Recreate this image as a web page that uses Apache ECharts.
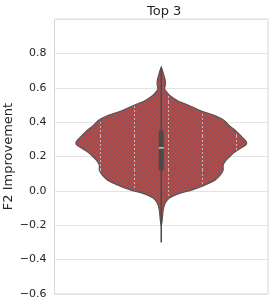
<!DOCTYPE html>
<html><head><meta charset="utf-8">
<script src="https://cdn.jsdelivr.net/npm/echarts@6/dist/echarts.min.js"></script>
<style>html,body{margin:0;padding:0;background:#fff}#c{width:274px;height:308px}</style>
</head><body><div id="c"></div>
<script>
const categories = ['Top 3'];
const title = 'Top 3';
const yAxisName = 'F2 Improvement';
// violin profile: value and relative density (1 = widest)
const kdeValues  = [0.72, 0.70, 0.67, 0.64, 0.613, 0.594, 0.574, 0.555, 0.526, 0.497, 0.468, 0.439, 0.41, 0.38, 0.353, 0.324, 0.295, 0.28, 0.266, 0.247, 0.227, 0.208, 0.179, 0.15, 0.121, 0.092, 0.064, 0.035, 0.006, -0.013, -0.042, -0.071, -0.11, -0.15, -0.19, -0.20];
const kdeDensity = [0.0, 0.015, 0.032, 0.047, 0.047, 0.040, 0.065, 0.10, 0.187, 0.324, 0.456, 0.62, 0.737, 0.795, 0.865, 0.924, 0.982, 1.0, 0.988, 0.924, 0.865, 0.819, 0.76, 0.725, 0.725, 0.69, 0.632, 0.515, 0.363, 0.222, 0.094, 0.047, 0.023, 0.015, 0.006, 0.0];
const whisker = [-0.30, 0.72];
const quartiles = [0.12, 0.25, 0.35]; // q1, median, q3
const yTicks = [-0.6, -0.4, -0.2, 0.0, 0.2, 0.4, 0.6, 0.8];
const yRange = [-0.6, 1.0];

function makePattern() {
  const s = 34;
  const c = document.createElement('canvas');
  c.width = s; c.height = s;
  const g = c.getContext('2d');
  g.fillStyle = '#d2443f';
  g.fillRect(0, 0, s, s);
  g.strokeStyle = 'rgba(105,90,100,0.9)';
  g.lineWidth = 1.1;
  const p = s / 10;
  for (let k = -12; k <= 12; k++) {
    g.beginPath();
    g.moveTo(k * p - s, -s);
    g.lineTo(k * p + 2 * s, 2 * s);
    g.stroke();
  }
  g.fillStyle = 'rgba(215,195,195,0.85)';
  for (let y = 0; y < s; y += 4) g.fillRect(32, y, 1, 2);
  return c;
}

const chart = echarts.init(document.getElementById('c'), null, {renderer: 'canvas'});
const pattern = makePattern();
chart.setOption({
  animation: false,
  title: {
    text: title, left: 142, top: 0,
    textStyle: {fontFamily: 'DejaVu Sans', fontSize: 13, fontWeight: 'normal', color: '#262626'}
  },
  grid: {left: 54.5, right: 6, top: 19, bottom: 14, show: true, borderColor: '#d6d6d6', borderWidth: 1,
         containLabel: false, outerBoundsMode: 'none'},
  xAxis: {type: 'value', min: -0.5, max: 0.5, show: false},
  yAxis: {
    type: 'value', min: yRange[0], max: yRange[1], interval: 0.2,
    name: yAxisName, nameLocation: 'middle', nameRotate: 90, nameGap: 39, nameMoveOverlap: false,
    nameTextStyle: {fontFamily: 'DejaVu Sans', fontSize: 13, color: '#262626'},
    axisLine: {show: false}, axisTick: {show: false},
    axisLabel: {
      fontFamily: 'DejaVu Sans', fontSize: 11, color: '#262626', margin: 8,
      showMaxLabel: false,
      formatter: v => {
        const t = yTicks.find(x => Math.abs(x - v) < 1e-6);
        if (t === undefined) return '';
        return t.toFixed(1).replace('-', '\u2212');
      }
    },
    splitLine: {lineStyle: {color: '#e3e3e3', width: 1}}
  },
  series: [{
    type: 'custom',
    data: [[0, quartiles[1]]],
    renderItem: (params, api) => {
      const halfMax = 0.4;
      const pts = [];
      for (let i = 0; i < kdeValues.length; i++) pts.push(api.coord([-halfMax * kdeDensity[i], kdeValues[i]]));
      for (let i = kdeValues.length - 1; i >= 0; i--) pts.push(api.coord([halfMax * kdeDensity[i], kdeValues[i]]));
      const wTop = api.coord([0, whisker[1]]);
      const wBot = api.coord([0, whisker[0]]);
      const q1p = api.coord([0, quartiles[0]]);
      const q3p = api.coord([0, quartiles[2]]);
      const md = api.coord([0, quartiles[1]]);
      const bw = 5;
      return {
        type: 'group',
        children: [
          {type: 'polygon', shape: {points: pts, smooth: 0.3},
           style: {fill: {image: pattern, repeat: 'repeat'}, stroke: '#555555', lineWidth: 1.2}},
          {type: 'line', shape: {x1: wTop[0], y1: wTop[1], x2: wBot[0], y2: wBot[1]},
           style: {stroke: '#4a4a4a', lineWidth: 1.5}},
          {type: 'rect', shape: {x: q3p[0] - bw / 2, y: q3p[1], width: bw, height: q1p[1] - q3p[1]},
           style: {fill: '#4a4a4a'}},
          {type: 'line', shape: {x1: md[0] - bw / 2, y1: md[1], x2: md[0] + bw / 2, y2: md[1]},
           style: {stroke: '#e8e8e8', lineWidth: 1.2}}
        ]
      };
    }
  }]
});
</script>
</body></html>
